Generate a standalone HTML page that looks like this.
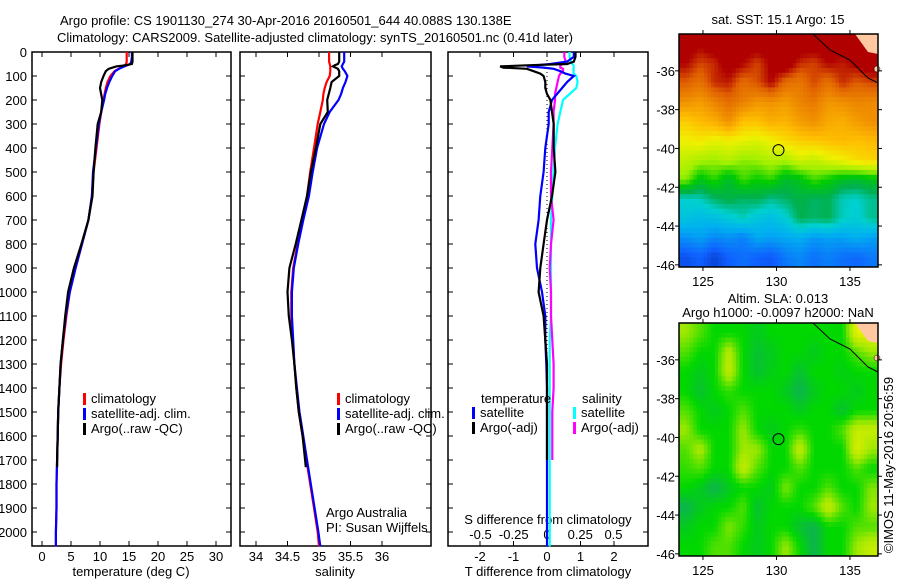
<!DOCTYPE html>
<html><head><meta charset="utf-8"><style>
body{margin:0;background:#fff;width:900px;height:580px;overflow:hidden}
svg{display:block;font-family:"Liberation Sans",sans-serif;font-size:13px}
</style></head><body>
<svg id="fig" width="900" height="580" xmlns="http://www.w3.org/2000/svg">
<text x="60" y="25">Argo profile: CS 1901130_274 30-Apr-2016 20160501_644 40.088S 130.138E</text>
<text x="57" y="42">Climatology: CARS2009. Satellite-adjusted climatology: synTS_20160501.nc (0.41d later)</text>
<g id="p1"></g>
<g id="p2"></g>
<g id="p3"></g>
<g id="m1"></g>
<g id="m2"></g>
<text x="778" y="24" text-anchor="middle">sat. SST: 15.1 Argo: 15</text>
<text x="778" y="303" text-anchor="middle">Altim. SLA: 0.013</text>
<text x="778" y="317" text-anchor="middle">Argo h1000: -0.0097 h2000: NaN</text>
<text transform="translate(893,465) rotate(-90)" text-anchor="middle">©IMOS 11-May-2016 20:56:59</text>
</svg>
<script>
const depthTicks=[0,100,200,300,400,500,600,700,800,900,1000,1100,1200,1300,1400,1500,1600,1700,1800,1900,2000];
const climDepth=[0,20,40,50,60,70,80,100,125,150,175,200,250,300,400,500,600,700,800,900,1000,1100,1200,1300,1400,1500,1600,1700,1800,1900,2000,2060];
const tempClim=[14.6,14.6,14.6,14.5,14.0,13.2,12.5,11.8,11.3,11.0,10.8,10.6,10.2,9.9,9.4,8.9,8.6,8.0,6.9,5.8,4.8,4.2,3.7,3.3,3.0,2.8,2.7,2.6,2.5,2.5,2.4,2.4];
const tempSat=[15.5,15.5,15.4,15.2,14.2,13.3,12.6,12.1,11.6,11.2,10.9,10.7,10.2,9.8,9.3,8.8,8.6,8.0,6.9,5.8,4.8,4.1,3.6,3.2,3.0,2.8,2.7,2.6,2.5,2.5,2.4,2.4];
const argoDepth=[0,20,40,50,55,60,70,80,100,125,150,200,250,300,400,500,600,700,800,900,1000,1100,1200,1300,1400,1500,1600,1700,1730];
const tempArgo=[15.6,15.6,15.6,15.5,14.5,12.8,11.5,11.0,10.6,10.2,10.0,10.4,10.2,9.6,9.2,8.9,8.7,8.0,6.8,5.5,4.5,4.0,3.6,3.2,3.0,2.8,2.7,2.6,2.6];
const salClim=[35.16,35.16,35.16,35.17,35.18,35.18,35.18,35.17,35.12,35.09,35.07,35.06,35.02,34.98,34.92,34.86,34.81,34.74,34.66,34.59,34.56,34.56,34.58,34.61,34.64,34.68,34.74,34.80,34.86,34.92,34.98,35.0];
const salSat=[35.40,35.40,35.40,35.38,35.36,35.38,35.41,35.45,35.42,35.38,35.35,35.31,35.17,35.08,34.97,34.90,34.84,34.75,34.67,34.60,34.57,34.57,34.59,34.61,34.65,34.69,34.75,34.81,34.87,34.93,34.99,35.02];
const salArgo=[35.32,35.32,35.32,35.3,35.25,35.22,35.3,35.32,35.32,35.2,35.18,35.13,35.14,35.02,34.95,34.87,34.81,34.72,34.63,34.53,34.50,34.52,34.57,34.61,34.64,34.68,34.74,34.78,34.79];
const diffDepth=[0,20,40,50,55,60,65,70,80,90,100,125,150,175,200,250,300,400,500,600,700,800,900,1000,1100,1200,1300,1400,1500,1600,1700,1800,1900,2000,2060];
const dTSat=[0.8,0.8,0.6,0.1,-0.3,-0.6,-0.1,0.2,0.4,0.55,0.8,0.6,0.45,0.3,0.15,0.05,0.05,-0.05,-0.1,-0.2,-0.25,-0.35,-0.3,-0.15,-0.05,-0.05,-0.02,0,0,0,0,0,0,0,0];
const dTArgo=[0.85,0.85,0.8,0.6,-0.5,-1.4,-1.3,-0.6,-0.4,-0.2,-0.1,-0.05,-0.05,0,0.1,0.15,0.2,0.2,0.25,0.15,0,-0.1,-0.2,-0.25,-0.1,-0.05,0,0,0,0,0];
const dSSat=[0.17,0.17,0.18,0.19,0.2,0.2,0.2,0.2,0.2,0.2,0.22,0.23,0.22,0.17,0.12,0.1,0.08,0.06,0.05,0.04,0.03,0.03,0.03,0.03,0.03,0.02,0.02,0.02,0.02,0.02,0.02,0.02,0.02,0.02,0.02];
const dSArgo=[0.13,0.13,0.14,0.12,0.1,0.1,0.1,0.12,0.12,0.1,0.09,0.08,0.07,0.06,0.06,0.05,0.05,0.04,0.03,0.03,0.05,0.03,0.02,0.03,0.03,0.04,0.05,0.05,0.04,0.04,0.04];
const tTicks=[0,5,10,15,20,25,30];
const sTicks=[34,34.5,35,35.5,36];
const dtTicks=[-2,-1,0,1,2];
const dsTicks=[-0.5,-0.25,0,0.25,0.5];
const dsTickLabels=["-0.5","-0.25","0","0.25","0.5"];
const lonTicks=[125,130,135];
const latTicks=[-36,-38,-40,-42,-44,-46];
const sstGrid=[
[18.8,18.6,18.9,18.9,18.7,18.9,18.8,18.6,18.9,18.9,18.8,18.9,18.9,18.9],
[18.5,18,18.2,18.8,18.5,18,18.6,19,18.2,18,18.5,18.3,18.6,19],
[17.8,17.5,18.2,18.3,17.6,17.9,18.5,17.6,17.4,18,17.5,18.2,17.8,18],
[17,16.8,17.2,17.6,17.3,16.9,17,16.8,17.2,17.4,16.9,17,17.2,17.1],
[16,16.3,16.5,17,16.2,16.2,16.5,16.4,16.8,17,16.6,16.5,16.8,17],
[15.5,15.6,15.4,15.5,15.4,15.3,15.5,15.8,16.0,16.1,16.2,16.3,16.2,16.3],
[15.0,14.8,14.7,14.9,14.6,14.7,14.9,14.8,15.2,15.0,15.3,15.5,15.8,15.9],
[14.6,13.8,14.2,13.6,14.3,14,14.2,13.6,13.8,14.3,14,13.7,13.6,13.8],
[12.7,12.8,13.2,13.4,13.2,13.3,13.0,13.2,13.4,13.2,13.3,12.8,12.7,13.0],
[12.4,12.2,12.3,12.5,12.8,12.4,12.3,12.6,13.3,13.2,13.3,12.8,12.6,13.0],
[11.6,11.8,11.5,11.6,11.4,11.9,11.8,11.9,12.0,11.7,11.8,11.8,12.0,11.8],
[10.8,11,10.6,11,11.2,11,10.9,11.3,11.5,11.2,11.4,11.2,11.1,11.3]];
const slaGrid=[
[1,0.5,0,0,0,-0.3,0,0,0,0,0,0,2,2],
[0.5,0,0,1.3,0,-0.5,-0.3,0,0,-0.3,0,0,0.5,1],
[0,-0.3,0,1.5,0,-0.5,-0.2,0,-0.5,0,0,-0.2,0,0],
[0,-0.5,0,0.3,0,0,0,-0.3,-0.8,-0.3,0,0,-0.3,0],
[0.5,0,-0.3,0,0.5,0,0,0,-0.3,0,0,-0.5,0,0],
[1,0,0,0,1,0,-0.3,0,0.3,0,0,0.5,1.5,1.5],
[0.5,1.2,0,0,1.0,1.0,0,0,1.5,0,0,0,1.8,1],
[0.3,0.5,0,0,1.5,0.5,0,0,0.5,0,0,0,0.5,0],
[0,-0.3,-0.8,-0.3,0,0,-0.3,0.8,0,0,0.5,0,0,0.8],
[-0.8,-0.3,0,0,0.5,-0.5,0,0,0,0.5,1.5,0.5,0,1],
[-0.3,0,0,0.8,0.3,-0.3,0,0,-0.5,-0.8,0,0,0.5,0.5],
[0,0,0.5,0.5,0,-0.3,0,1,0,-0.8,0,0,1,1.5]];

const NS="http://www.w3.org/2000/svg";
function mk(parent,tag,attrs,txt){const e=document.createElementNS(NS,tag);for(const k in attrs)e.setAttribute(k,attrs[k]);if(txt!==undefined)e.textContent=txt;parent.appendChild(e);return e;}
const yD=d=>52+d*0.24;
const PB=546;
function panel(g,x0,x1,name){
  const r=mk(g,'rect',{x:x0,y:52,width:x1-x0,height:PB-52,fill:'none',stroke:'#000','stroke-width':1.5});
  
  
  depthTicks.forEach(d=>{mk(g,'line',{x1:x0,x2:x0+5,y1:yD(d),y2:yD(d),stroke:'#000'});mk(g,'line',{x1:x1,x2:x1-5,y1:yD(d),y2:yD(d),stroke:'#000'});});
}
function xticks(g,ticks,labels,fx,ylab){
  ticks.forEach((t,i)=>{const x=fx(t);mk(g,'line',{x1:x,x2:x,y1:PB,y2:PB-5,stroke:'#000'});mk(g,'line',{x1:x,x2:x,y1:52,y2:57,stroke:'#000'});
   const tl=mk(g,'text',{x:x,y:ylab,'text-anchor':'middle'},labels[i]);
   
   });
}
function line(g,depths,vals,fx,color,name,w){
  const pts=vals.map((v,i)=>fx(v).toFixed(1)+','+yD(depths[i]).toFixed(1)).join(' ');
  const p=mk(g,'polyline',{points:pts,fill:'none',stroke:color,'stroke-width':w||2.2});
  
  
}
function legend(g,x,y,items){
  items.forEach((it,i)=>{mk(g,'rect',{x:x,y:y+i*15-10,width:3,height:12,fill:it[0]});
   const t=mk(g,'text',{x:x+8,y:y+i*15},it[1]);
   
   });
}
// panel 1
const p1=document.getElementById('p1');
const xT=t=>42+t*5.8;
panel(p1,32,231,'temperature-panel');
depthTicks.forEach(d=>{const t=mk(p1,'text',{x:27,y:yD(d)+5,'text-anchor':'end'},String(d));});
xticks(p1,tTicks,tTicks.map(String),xT,561);
mk(p1,'text',{x:131,y:576,'text-anchor':'middle'},'temperature (deg C)');
line(p1,climDepth,tempClim,xT,'#f00','temp-climatology-line');
line(p1,climDepth,tempSat,xT,'#00f','temp-satellite-line');
line(p1,argoDepth,tempArgo,xT,'#000','temp-argo-line');
legend(p1,83,403,[['#f00','climatology'],['#00f','satellite-adj. clim.'],['#000','Argo(..raw -QC)']]);
// panel 2
const p2=document.getElementById('p2');
const xS=s=>256+(s-34)*63;
panel(p2,240,431,'salinity-panel');
xticks(p2,sTicks,sTicks.map(String),xS,561);
mk(p2,'text',{x:335,y:576,'text-anchor':'middle'},'salinity');
line(p2,climDepth,salClim,xS,'#f00','sal-climatology-line');
line(p2,climDepth,salSat,xS,'#00f','sal-satellite-line');
line(p2,argoDepth,salArgo,xS,'#000','sal-argo-line');
legend(p2,337,403,[['#f00','climatology'],['#00f','satellite-adj. clim.'],['#000','Argo(..raw -QC)']]);
mk(p2,'text',{x:326,y:517},'Argo Australia');
mk(p2,'text',{x:326,y:532},'PI: Susan Wijffels');
// panel 3
const p3=document.getElementById('p3');
const xdT=t=>547+t*33.5, xdS=s=>547+s*133;
panel(p3,448,648,'difference-panel');
xticks(p3,dtTicks,dtTicks.map(String),xdT,561);
dsTicks.forEach((s,i)=>{const t=mk(p3,'text',{x:xdS(s),y:539,'text-anchor':'middle'},dsTickLabels[i]);});
mk(p3,'text',{x:548,y:524,'text-anchor':'middle'},'S difference from climatology');
mk(p3,'text',{x:548,y:576,'text-anchor':'middle'},'T difference from climatology');
mk(p3,'line',{x1:547,x2:547,y1:52,y2:PB,stroke:'#000','stroke-dasharray':'1,3'});
line(p3,diffDepth,dSSat,xdS,'#0ff','dS-satellite-line');
line(p3,diffDepth.slice(0,dSArgo.length),dSArgo,xdS,'#f0f','dS-argo-line');
line(p3,diffDepth,dTSat,xdT,'#00f','dT-satellite-line');
line(p3,diffDepth.slice(0,dTArgo.length),dTArgo,xdT,'#000','dT-argo-line');
mk(p3,'text',{x:481,y:403},'temperature');
mk(p3,'text',{x:582,y:403},'salinity');
legend(p3,472,417,[['#00f','satellite'],['#000','Argo(-adj)']]);
legend(p3,573,417,[['#0ff','satellite'],['#f0f','Argo(-adj)']]);
// maps
function lerpColor(stops,v){
  const rgb=c=>'rgb('+c.map(Math.round).join(',')+')';
  if(v<=stops[0][0])return rgb(stops[0][1]);
  for(let i=1;i<stops.length;i++){if(v<=stops[i][0]){const a=stops[i-1],b=stops[i],f=(v-a[0])/(b[0]-a[0]);
   return rgb(a[1].map((c,k)=>c+(b[1][k]-c)*f));}}
  return rgb(stops[stops.length-1][1]);
}
const sstStops=[[10,[0,30,160]],[11,[16,96,255]],[12,[0,176,240]],[12.7,[0,208,208]],[13.3,[0,176,80]],[14,[0,204,0]],[14.7,[160,240,0]],[15.5,[240,240,0]],[16.2,[255,192,0]],[17,[240,144,0]],[17.8,[224,96,0]],[18.5,[176,0,0]]];
const slaStops=[[-1,[16,170,100]],[0,[0,216,0]],[1,[160,232,0]],[2,[232,240,0]]];
function sample(grid,fr,fc){
  const rows=grid.length,cols=grid[0].length;
  const r=Math.min(Math.max(fr-0.5,0),rows-1),c=Math.min(Math.max(fc-0.5,0),cols-1);
  const r0=Math.floor(r),c0=Math.floor(c),r1=Math.min(r0+1,rows-1),c1=Math.min(c0+1,cols-1),a=r-r0,b=c-c0;
  return grid[r0][c0]*(1-a)*(1-b)+grid[r0][c1]*(1-a)*b+grid[r1][c0]*a*(1-b)+grid[r1][c1]*a*b;
}
function map(g,y0,grid,stops,name){
  const x0=679,x1=878,y1=y0+233;
  const lonX=l=>679+(l-123.37)*14.7, latY=la=>y0+(-34.1-la)*19.4;
  const rows=grid.length,cols=grid[0].length,sub=4,cw=(x1-x0)/(cols*sub),ch=(y1-y0)/(rows*sub);
  for(let r=0;r<rows*sub;r++)for(let c=0;c<cols*sub;c++){
    const v=sample(grid,(r+0.5)/sub,(c+0.5)/sub);
    const cell=mk(g,'rect',{x:(x0+c*cw).toFixed(2),y:(y0+r*ch).toFixed(2),width:(cw+0.5).toFixed(2),height:(ch+0.5).toFixed(2),fill:lerpColor(stops,v)});
    
    
  }
  mk(g,'polygon',{points:`855,${y0} ${x1},${y0} ${x1},${y0+20} 868,${y0+18}`,fill:'#ffc8a0'});
  mk(g,'polyline',{points:`813,${y0} 830,${y0+16} 850,${y0+26} 868,${y0+44} ${x1},${y0+49}`,fill:'none',stroke:'#000','stroke-width':1});
  mk(g,'circle',{cx:877,cy:y0+35,r:3,fill:'#ffc8a0',stroke:'#000','stroke-width':0.5});
  mk(g,'circle',{cx:lonX(130.138),cy:latY(-40.088),r:5.5,fill:'none',stroke:'#000','stroke-width':1});
  const fr=mk(g,'rect',{x:x0,y:y0,width:x1-x0,height:y1-y0,fill:'none',stroke:'#000','stroke-width':1.5});
  
  
  lonTicks.forEach(l=>{const x=lonX(l);mk(g,'line',{x1:x,x2:x,y1:y0,y2:y0-4,stroke:'#000'});mk(g,'line',{x1:x,x2:x,y1:y1,y2:y1+4,stroke:'#000'});
    const t=mk(g,'text',{x:x,y:y1+19,'text-anchor':'middle'},String(l));});
  latTicks.forEach(la=>{const y=latY(la);mk(g,'line',{x1:x0,x2:x0-4,y1:y,y2:y,stroke:'#000'});mk(g,'line',{x1:x1,x2:x1+4,y1:y,y2:y,stroke:'#000'});
    const t=mk(g,'text',{x:675,y:y+5,'text-anchor':'end'},String(la));});
}
map(document.getElementById('m1'),34,sstGrid,sstStops,'sst');
map(document.getElementById('m2'),323,slaGrid,slaStops,'sla');
</script>
</body></html>
